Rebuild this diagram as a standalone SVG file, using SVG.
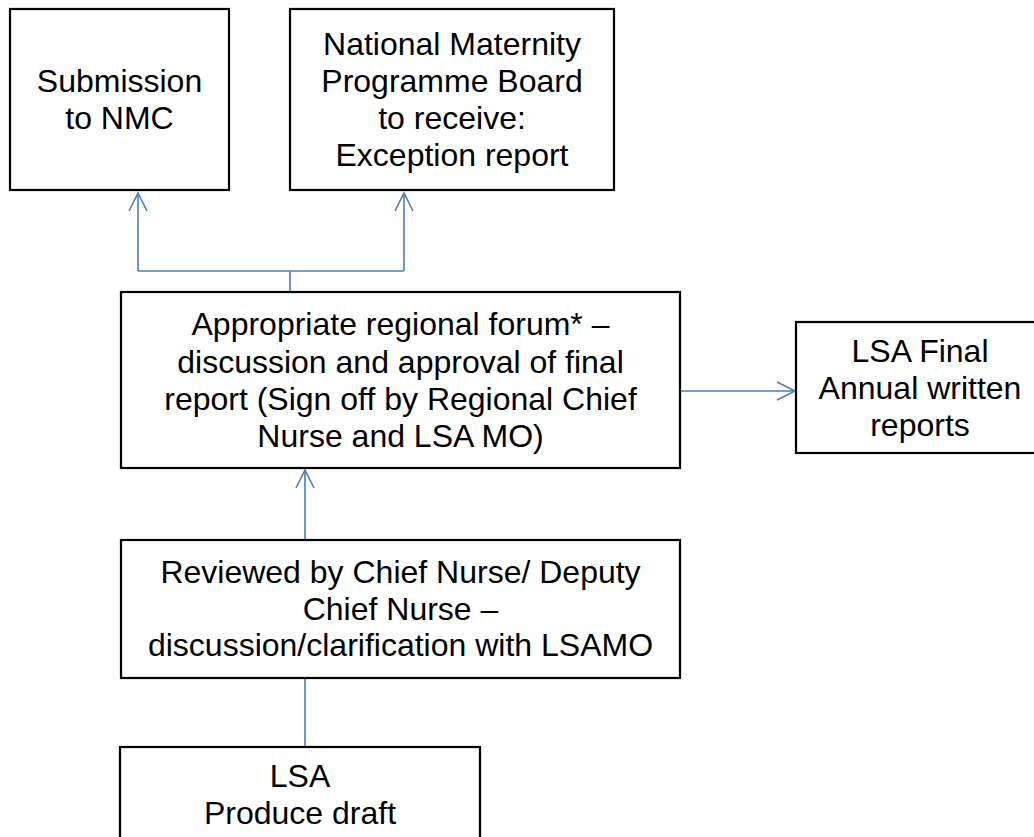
<svg xmlns="http://www.w3.org/2000/svg" width="1034" height="837" viewBox="0 0 1034 837">
<style>
.box{fill:#fff;stroke:#000;stroke-width:2.2}
.t{font-family:"Liberation Sans",Arial,sans-serif;font-size:32px;fill:#000;text-anchor:middle}
.c{fill:none;stroke:#4a7ebb;stroke-width:1.6}
</style>
<defs>
<marker id="arr" markerUnits="userSpaceOnUse" markerWidth="24" markerHeight="24" viewBox="-20 -12 24 24" refX="0" refY="0" orient="auto">
<path d="M-18,-9 L0,0 L-18,9" fill="none" stroke="#4a7ebb" stroke-width="1.6"/>
</marker>
</defs>
<rect width="1034" height="837" fill="#fff"/>
<g id="connectors">
<path class="c" d="M290,292 V271"/>
<path class="c" d="M138,271 H404"/>
<path class="c" d="M138,271 V193" marker-end="url(#arr)"/>
<path class="c" d="M404,271 V193" marker-end="url(#arr)"/>
<path class="c" d="M680,391 H795" marker-end="url(#arr)"/>
<path class="c" d="M305,540 V470" marker-end="url(#arr)"/>
<path class="c" d="M305,747 V678"/>
</g>
<g id="node-nmc">
<rect class="box" x="10" y="9" width="219" height="181"/>
<text class="t" x="119.5" y="92">Submission</text>
<text class="t" x="119.5" y="128.5">to NMC</text>
</g>
<g id="node-board">
<rect class="box" x="290" y="9" width="324" height="181"/>
<text class="t" x="452" y="55">National Maternity</text>
<text class="t" x="452" y="91.5">Programme Board</text>
<text class="t" x="452" y="128.5">to receive:</text>
<text class="t" x="452" y="165.5">Exception report</text>
</g>
<g id="node-forum">
<rect class="box" x="121" y="292" width="559" height="176"/>
<text class="t" x="400.5" y="335">Appropriate regional forum* –</text>
<text class="t" x="400.5" y="372.5">discussion and approval of final</text>
<text class="t" x="400.5" y="410">report (Sign off by Regional Chief</text>
<text class="t" x="400.5" y="447">Nurse and LSA MO)</text>
</g>
<g id="node-final">
<rect class="box" x="796" y="322" width="250" height="131"/>
<text class="t" x="920" y="362">LSA Final</text>
<text class="t" x="920" y="399">Annual written</text>
<text class="t" x="920" y="436">reports</text>
</g>
<g id="node-review">
<rect class="box" x="121" y="540" width="559" height="138"/>
<text class="t" x="400.5" y="583">Reviewed by Chief Nurse/ Deputy</text>
<text class="t" x="400.5" y="619.5">Chief Nurse –</text>
<text class="t" x="400.5" y="656">discussion/clarification with LSAMO</text>
</g>
<g id="node-draft">
<rect class="box" x="120" y="747" width="360" height="100"/>
<text class="t" x="300" y="787">LSA</text>
<text class="t" x="300" y="824">Produce draft</text>
</g>
</svg>
